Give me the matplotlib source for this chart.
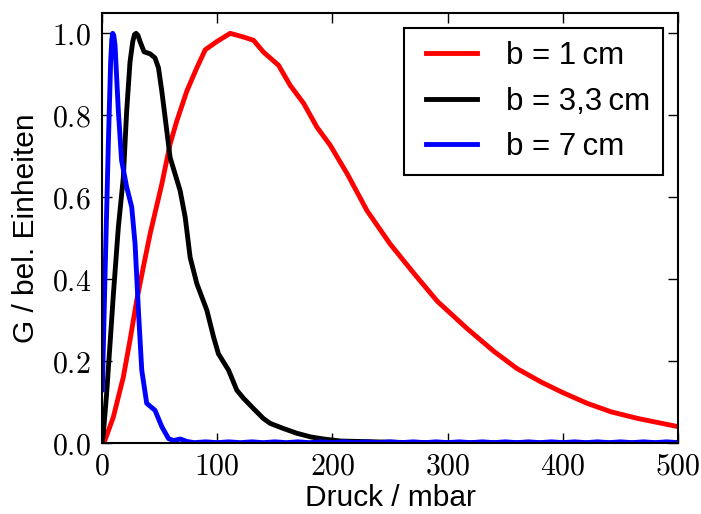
import matplotlib
matplotlib.use("Agg")
import matplotlib.pyplot as plt
from matplotlib.ticker import FuncFormatter
from matplotlib.legend_handler import HandlerLine2D

plt.rcParams['mathtext.fontset'] = 'cm'
plt.rcParams['font.family'] = ['Liberation Sans', 'DejaVu Sans']

# b = 1 cm
x_red = [0, 2.6, 9.9, 18.5, 24.3, 30.1, 35.9, 41.7, 51.9, 59.1, 64.9, 73.6, 82.3, 89.6,
         99.7, 111.2, 122.8, 131.5, 140.2, 153.2, 163.3, 175, 186.5, 198, 213, 230, 250,
         271, 291, 317, 340, 360, 381, 400, 421, 442, 465, 500]
y_red = [0, 0.007, 0.064, 0.161, 0.251, 0.348, 0.43, 0.51, 0.632, 0.73, 0.786, 0.859, 0.916, 0.96,
         0.98, 1.0, 0.991, 0.983, 0.954, 0.922, 0.873, 0.829, 0.771, 0.727, 0.656, 0.567, 0.486,
         0.413, 0.346, 0.279, 0.224, 0.182, 0.149, 0.123, 0.097, 0.076, 0.06, 0.04]

# b = 3,3 cm
x_black = [0, 1.2, 4, 7, 9.9, 14.2, 18.5, 21.4, 24.3, 26.7, 28.2, 29.6, 31.2, 33, 36.5, 41.7, 46, 49,
           51.9, 54.8, 59.1, 63.5, 67.8, 72.2, 76.5, 82.3, 91, 96.8, 101, 109.8, 117, 122.9,
           131.5, 140, 146, 157, 169, 181, 192, 207, 236, 270, 350, 500]
y_black = [0, 0.024, 0.12, 0.243, 0.364, 0.527, 0.648, 0.81, 0.93, 0.98, 0.997, 1.0, 0.995, 0.98, 0.955,
           0.95, 0.94, 0.916, 0.859, 0.794, 0.697, 0.656, 0.616, 0.551, 0.453, 0.389, 0.324, 0.259, 0.218,
           0.178, 0.129, 0.109, 0.084, 0.06, 0.048, 0.036, 0.024, 0.015, 0.01, 0.005, 0.003, 0.001,
           0.0005, 0.0]

# b = 7 cm
x_blue = [0.3, 2.6, 5.5, 7.5, 8.5, 9.3, 10.2, 11.3, 14.2, 17, 21.4, 25.8, 28.7, 31.6, 34.5, 38.8, 46,
          51.9, 57.7, 62, 67.8, 73.6, 80, 90, 100, 110, 120, 130, 140, 150, 160, 170, 180,
          190, 200, 210, 220, 230, 240, 250, 260, 270, 280, 290, 300, 310, 320, 330, 340,
          350, 360, 370, 380, 390, 400, 410, 420, 430, 440, 450, 460, 470, 480, 490, 500]
y_blue = [0.13, 0.405, 0.73, 0.93, 0.985, 1.0, 0.995, 0.972, 0.81, 0.69, 0.625, 0.576, 0.486, 0.324,
          0.178, 0.097, 0.08, 0.04, 0.011, 0.006, 0.01, 0.004, 0.001, 0.003, 0.001, 0.003, 0.001,
          0.003, 0.001, 0.003, 0.001, 0.003, 0.001, 0.003, 0.001, 0.003, 0.001, 0.003, 0.001, 0.003,
          0.001, 0.003, 0.001, 0.003, 0.001, 0.003, 0.001, 0.003, 0.001, 0.003, 0.001, 0.003, 0.001,
          0.003, 0.001, 0.003, 0.001, 0.003, 0.001, 0.003, 0.001, 0.003, 0.001, 0.003, 0.001]

labels = ['b = 1\u2009cm', 'b = 3,3\u2009cm', 'b = 7\u2009cm']


class ShortLine(HandlerLine2D):
    # legend line sits inside the handle box with some space on both sides
    def get_xdata(self, legend, xdescent, ydescent, width, height, fontsize):
        xd = [-xdescent + 0.13 * width, -xdescent + 0.88 * width]
        return xd, xd


fig = plt.figure(figsize=(7.01, 5.14), dpi=100)
ax = fig.add_axes([0.1455, 0.138, 0.822, 0.837])

ax.plot(x_red, y_red, color='red', lw=3.5, label=labels[0])
ax.plot(x_black, y_black, color='black', lw=3.5, label=labels[1])
ax.plot(x_blue, y_blue, color='blue', lw=3.5, label=labels[2])

ax.set_xlim(0, 500)
ax.set_ylim(0, 1.05)
ax.set_xticks([0, 100, 200, 300, 400, 500])
ax.set_yticks([0, 0.2, 0.4, 0.6, 0.8, 1.0])
ax.xaxis.set_major_formatter(FuncFormatter(lambda v, p: r'$%d$' % v))
ax.yaxis.set_major_formatter(FuncFormatter(lambda v, p: r'$%.1f$' % v))
ax.tick_params(direction='in', length=7, width=1, top=True, right=True, labelsize=21.5)
ax.tick_params(axis='x', pad=7)
ax.tick_params(axis='y', pad=8)
for s in ax.spines.values():
    s.set_linewidth(1.5)

ax.set_xlabel('Druck / mbar', fontsize=21.5, labelpad=2)
ax.set_ylabel('G / bel. Einheiten', fontsize=21.5, labelpad=8)

leg = ax.legend(loc='upper right', fontsize=22.5, handlelength=2.2, handletextpad=0.65,
                borderpad=0.4, fancybox=False, framealpha=1, edgecolor='black',
                handler_map={plt.Line2D: ShortLine()})
leg.get_frame().set_linewidth(1.5)

fig.savefig('out.png', dpi=100)
